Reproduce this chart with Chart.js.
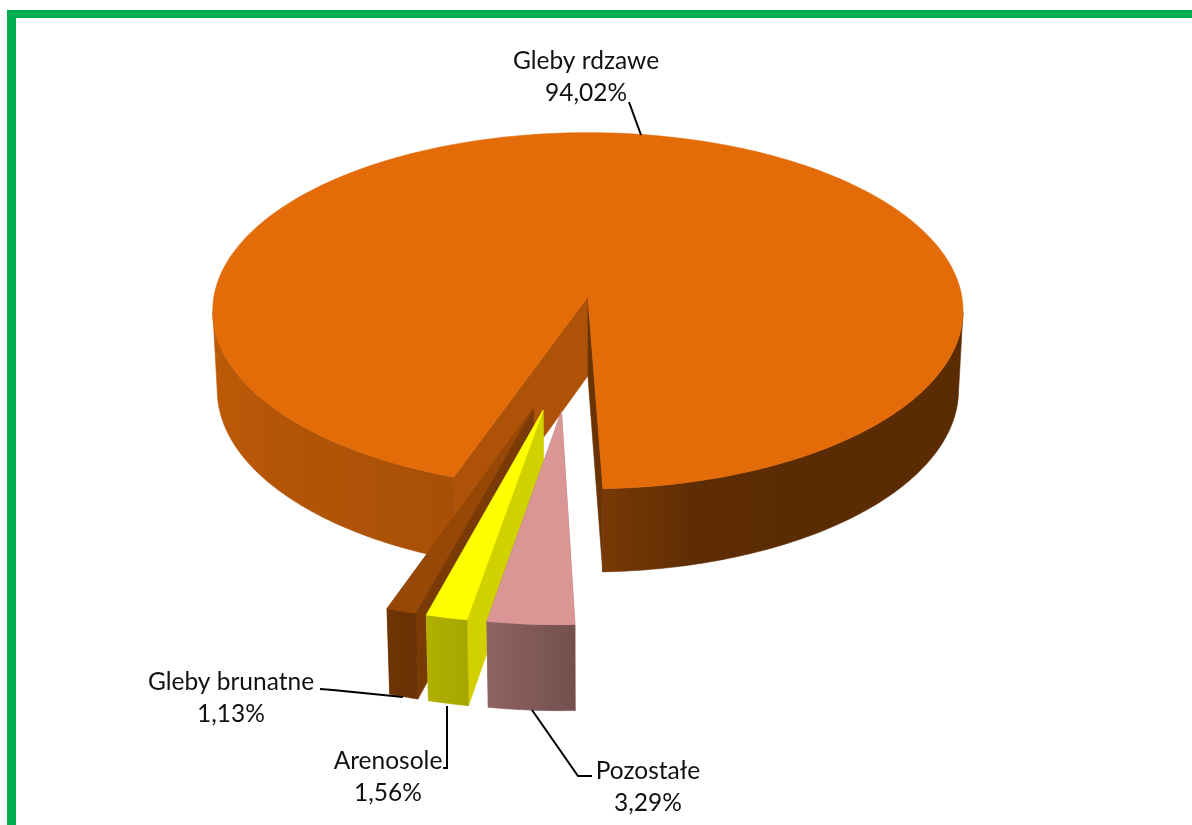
<!DOCTYPE html>
<html lang="pl">
<head>
<meta charset="utf-8">
<title>Gleby</title>
<script src="https://cdn.jsdelivr.net/npm/chart.js@4"></script>
<style>
html,body{margin:0;padding:0;background:#fff;overflow:hidden}
#wrap{position:absolute;left:0;top:0;width:1192px;height:825px}
#frame{position:absolute;left:7px;top:10px;width:1185px;height:815px;border-left:9px solid #00B050;border-top:8px solid #00B050;box-sizing:border-box}
canvas{position:absolute;left:0;top:0}
</style>
</head>
<body>
<div id="wrap"><div id="frame"></div><canvas id="c" width="1192" height="825"></canvas></div>
<script>
// Data
const categories = ['Gleby rdzawe', 'Pozostałe', 'Arenosole', 'Gleby brunatne'];
const shares = [94.02, 3.29, 1.56, 1.13];
const valueLabels = ['94,02%', '3,29%', '1,56%', '1,13%'];
const sliceColors = ['#E36C09', '#D99694', '#FFFF00', '#974806'];

// Styling and camera (not data)
const startDeg = 199.4;
const explodePx = 111;
const faceShade = [[0.76, 0.47], [0.8, 0.8], [0.82, 0.82], [0.8, 0.8]];
const cam = {cx: 588, cy: 297, R: 374, k: 177, D: 80, p: 0.0786, q: 0.012, cu: -0.047, cv: 0.306};
const shadeStops = [[-90,.855],[-20,.74],[-15.3,.69],[-9.7,.65],[-8,.64],[2,.53],[15,.42],[30,.40],[90,.40]];
const labelFont = '24.5px Lato, "Open Sans", sans-serif';
const labelPos = [[586,69,101],[648,779,811],[388,769,801],[231,690,722]];
const leaders = [
  [[629,102],[641,135]],
  [[532,710],[578,776],[592,776]],
  [[447,706],[447,768],[443,768]],
  [[320,689],[333,690],[403,697]]
];

function project(u, v, z) {
  const f = 1 / (1 - cam.p * v + cam.q * z);
  return [cam.cx + cam.R * u * f, cam.cy + (cam.k * v + cam.D * z) * f];
}
function shadeAt(a) {
  // a: degrees east of south
  if (a < -90) a = -90; if (a > 90) a = 90;
  for (let i = 1; i < shadeStops.length; i++) {
    if (a <= shadeStops[i][0]) {
      const [a0, s0] = shadeStops[i-1], [a1, s1] = shadeStops[i];
      return s0 + (s1 - s0) * (a - a0) / (a1 - a0);
    }
  }
  return 0.4;
}
function tint(hex, s) {
  const n = parseInt(hex.slice(1), 16);
  return 'rgb(' + [(n>>16)&255, (n>>8)&255, n&255].map(c => Math.round(c * s)).join(',') + ')';
}
function poly(ctx, pts, color) {
  ctx.beginPath();
  pts.forEach((p, i) => i ? ctx.lineTo(p[0], p[1]) : ctx.moveTo(p[0], p[1]));
  ctx.closePath();
  ctx.fillStyle = color; ctx.strokeStyle = color; ctx.lineWidth = 0.6;
  ctx.fill(); ctx.stroke();
}
function drawWallRun(ctx, run, rim, col) {
  // run: list of angles along the visible rim, painted as one shape with a left-right gradient
  const upper = run.map(a => { const r = rim(a); return project(r[0], r[1], 0); });
  const lower = run.map(a => { const r = rim(a); return project(r[0], r[1], 1); });
  const xs = upper.map(p => p[0]);
  const x0 = Math.min(...xs), x1 = Math.max(...xs);
  const g = ctx.createLinearGradient(x0, 0, x1 === x0 ? x0 + 1 : x1, 0);
  const stops = run.map((a, i) => [xs[i], Math.atan2(Math.cos(a), Math.sin(a)) * 180 / Math.PI]).sort((m, n) => m[0] - n[0]);
  stops.forEach(st => g.addColorStop(Math.min(1, Math.max(0, (st[0] - x0) / ((x1 - x0) || 1))), tint(col, shadeAt(st[1]))));
  poly(ctx, upper.concat(lower.reverse()), g);
}
function drawSlice(ctx, arc, idx) {
  const p = arc.getProps(['startAngle', 'endAngle', 'outerRadius'], true);
  const e = arc.options.offset / p.outerRadius;
  const mid = (p.startAngle + p.endAngle) / 2;
  const au = cam.cu + e * Math.cos(mid), av = cam.cv + e * Math.sin(mid);
  const rim = a => [au + Math.cos(a), av + Math.sin(a)];
  const col = sliceColors[idx];
  const s = rim(p.startAngle), t = rim(p.endAngle);
  // cut faces
  poly(ctx, [project(au,av,0), project(s[0],s[1],0), project(s[0],s[1],1), project(au,av,1)], tint(col, faceShade[idx][0]));
  poly(ctx, [project(au,av,0), project(t[0],t[1],0), project(t[0],t[1],1), project(au,av,1)], tint(col, faceShade[idx][1]));
  // outer wall, split in runs facing the viewer
  const n = Math.max(8, Math.ceil((p.endAngle - p.startAngle) / (Math.PI / 180)));
  const da = (p.endAngle - p.startAngle) / n;
  const top = [project(au, av, 0)];
  let run = [];
  for (let i = 0; i <= n; i++) {
    const a = p.startAngle + i * da;
    const r = rim(a);
    top.push(project(r[0], r[1], 0));
    if (Math.sin(a) >= cam.p) run.push(a);
    else if (run.length) { if (run.length > 1) drawWallRun(ctx, run, rim, col); run = []; }
  }
  if (run.length > 1) drawWallRun(ctx, run, rim, col);
  // top surface
  poly(ctx, top, col);
}

const pie3d = {
  id: 'pie3d',
  beforeDatasetsDraw(chart) {
    const ctx = chart.ctx, arcs = chart.getDatasetMeta(0).data;
    ctx.save();
    ctx.lineJoin = 'round';
    [0, 3, 2, 1].forEach(i => drawSlice(ctx, arcs[i], i));
    ctx.restore();
    return false;
  },
  afterDraw(chart) {
    const ctx = chart.ctx;
    ctx.save();
    ctx.strokeStyle = '#000'; ctx.lineWidth = 2;
    leaders.forEach(l => {
      ctx.beginPath();
      l.forEach((p, i) => i ? ctx.lineTo(p[0], p[1]) : ctx.moveTo(p[0], p[1]));
      ctx.stroke();
    });
    ctx.fillStyle = '#111'; ctx.font = labelFont; ctx.textAlign = 'center'; ctx.textBaseline = 'alphabetic';
    categories.forEach((c, i) => {
      ctx.fillText(c, labelPos[i][0], labelPos[i][1]);
      ctx.fillText(valueLabels[i], labelPos[i][0], labelPos[i][2]);
    });
    ctx.restore();
  }
};

new Chart(document.getElementById('c'), {
  type: 'pie',
  data: {labels: categories, datasets: [{data: shares, backgroundColor: sliceColors, borderWidth: 0, offset: explodePx}]},
  options: {
    responsive: false, animation: false, rotation: startDeg,
    layout: {padding: 0},
    plugins: {legend: {display: false}, tooltip: {enabled: false}}
  },
  plugins: [pie3d]
});
</script>
</body>
</html>
